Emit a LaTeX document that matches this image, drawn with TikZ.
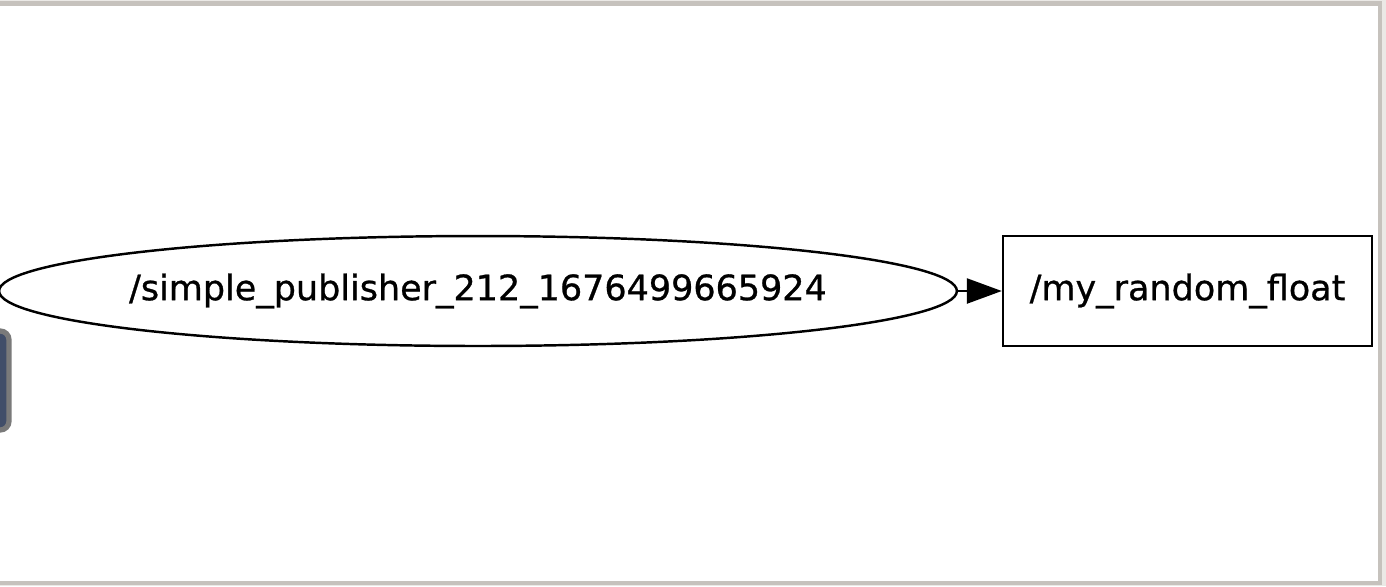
\documentclass[tikz,border=0pt]{standalone}
\usepackage{fontspec}
\setmainfont{DejaVu Sans}
\newfontfamily\graphfont[FakeBold=0.8]{DejaVu Sans}
\usetikzlibrary{shapes, arrows.meta, positioning}
\definecolor{framegray}{HTML}{C6C2BD}
\definecolor{outergray}{HTML}{EBE9E6}
\definecolor{tabblue}{HTML}{414E69}
\definecolor{tabrim}{HTML}{7A7A7A}

\begin{document}
\begin{tikzpicture}[x=0.02cm, y=-0.02cm, line width=1.4pt, >={Triangle[length=0.7cm, width=0.5cm]},
        graphtext/.style={font=\graphfont\fontsize{19.9}{24}\selectfont, inner sep=0pt}]
        \useasboundingbox (0,0) rectangle (1386,586);
        \fill[outergray] (0,0) rectangle (1386,586);
        \draw[framegray, fill=white, line width=2.5pt] (-10,3.5) rectangle (1380,583);

        % side tab at the left edge
        \draw[tabrim, fill=tabblue, line width=3pt, rounded corners=5pt] (-20,331) rectangle (9,430);

        \node at (478,291) [ellipse, draw, inner sep=0pt, minimum width=19.16cm, minimum height=2.2cm,
            label={[graphtext]center:/simple\_publisher\_212\_1676499665924}] (publisher) {};
        \node at (1187.5,291) [rectangle, draw, minimum width=7.38cm, minimum height=2.2cm, graphtext] (random_float) {/my\_random\_float};

        \draw[->] (publisher) -- (random_float);
\end{tikzpicture}
\end{document}
